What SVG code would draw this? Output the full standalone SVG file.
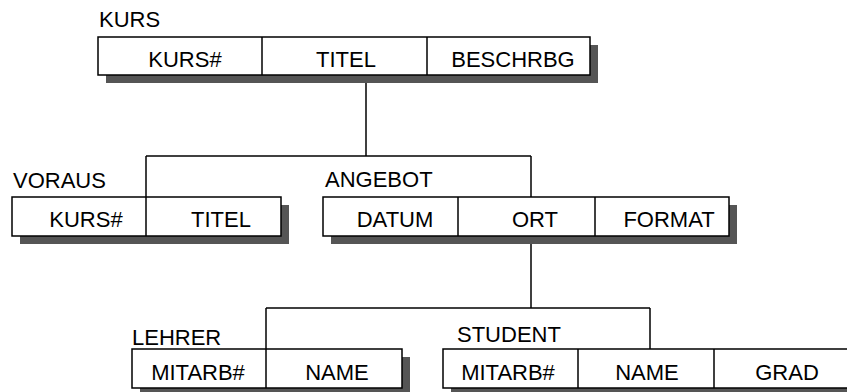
<svg xmlns="http://www.w3.org/2000/svg" width="847" height="392" viewBox="0 0 847 392">
<style>
  .shadow { fill: #555555; }
  .box { fill: #ffffff; stroke: #000000; stroke-width: 1.5; }
  .div { stroke: #000000; stroke-width: 1.5; }
  .conn { stroke: #000000; stroke-width: 1.5; fill: none; }
  text { font-family: "Liberation Sans", Arial, sans-serif; font-size: 22px; fill: #000000; }
  .cell { text-anchor: middle; }
</style>
<rect width="847" height="392" fill="#ffffff"/>
<g id="connectors">
  <line class="conn" x1="366" y1="83" x2="366" y2="156"/>
  <line class="conn" x1="146" y1="156" x2="531" y2="156"/>
  <line class="conn" x1="146" y1="156" x2="146" y2="197"/>
  <line class="conn" x1="531" y1="156" x2="531" y2="197"/>
  <line class="conn" x1="531" y1="244" x2="531" y2="308"/>
  <line class="conn" x1="266" y1="308" x2="650" y2="308"/>
  <line class="conn" x1="266" y1="308" x2="266" y2="349"/>
  <line class="conn" x1="650" y1="308" x2="650" y2="349"/>
</g>
<g id="kurs">
  <text x="99" y="27">KURS</text>
  <rect class="shadow" x="106" y="45" width="492" height="38"/>
  <rect class="box" x="98" y="37" width="492" height="38"/>
  <line class="div" x1="262" y1="37" x2="262" y2="75"/>
  <line class="div" x1="427" y1="37" x2="427" y2="75"/>
  <text class="cell" x="185" y="67">KURS#</text>
  <text class="cell" x="346" y="67">TITEL</text>
  <text class="cell" x="513" y="67">BESCHRBG</text>
</g>
<g id="voraus">
  <text x="13" y="188">VORAUS</text>
  <rect class="shadow" x="20" y="205" width="269" height="39"/>
  <rect class="box" x="12" y="197" width="269" height="39"/>
  <line class="div" x1="146" y1="197" x2="146" y2="236"/>
  <text class="cell" x="86" y="227">KURS#</text>
  <text class="cell" x="221" y="227">TITEL</text>
</g>
<g id="angebot">
  <text x="325" y="187">ANGEBOT</text>
  <rect class="shadow" x="331" y="205" width="406" height="39"/>
  <rect class="box" x="323" y="197" width="406" height="39"/>
  <line class="div" x1="458" y1="197" x2="458" y2="236"/>
  <line class="div" x1="595" y1="197" x2="595" y2="236"/>
  <text class="cell" x="395" y="227">DATUM</text>
  <text class="cell" x="535" y="227">ORT</text>
  <text class="cell" x="669" y="227">FORMAT</text>
</g>
<g id="lehrer">
  <text x="132" y="345">LEHRER</text>
  <rect class="shadow" x="140" y="357" width="270" height="39"/>
  <rect class="box" x="132" y="349" width="270" height="39"/>
  <line class="div" x1="266" y1="349" x2="266" y2="388"/>
  <text class="cell" x="198" y="380">MITARB#</text>
  <text class="cell" x="337" y="380">NAME</text>
</g>
<g id="student">
  <text x="457" y="342">STUDENT</text>
  <rect class="shadow" x="451" y="357" width="420" height="39"/>
  <rect class="box" x="443" y="349" width="420" height="39"/>
  <line class="div" x1="578" y1="349" x2="578" y2="388"/>
  <line class="div" x1="714" y1="349" x2="714" y2="388"/>
  <text class="cell" x="508" y="380">MITARB#</text>
  <text class="cell" x="647" y="380">NAME</text>
  <text class="cell" x="787" y="380">GRAD</text>
</g>
</svg>
